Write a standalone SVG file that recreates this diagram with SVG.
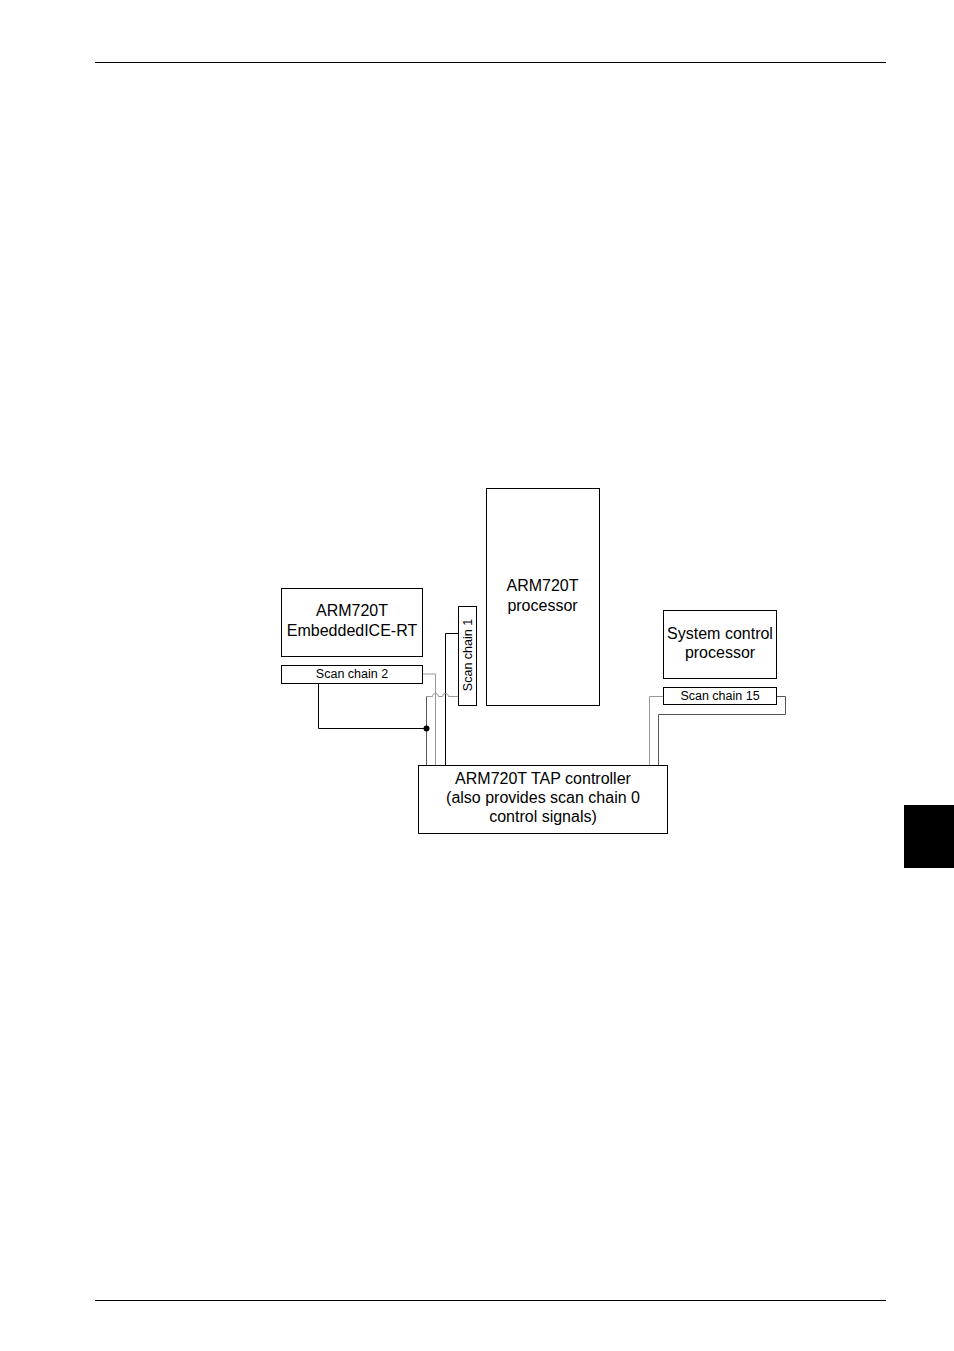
<svg xmlns="http://www.w3.org/2000/svg" width="954" height="1351" viewBox="0 0 954 1351">
<style>
.box{fill:#fff;stroke:#000;stroke-width:1}
.t{font-family:"Liberation Sans",Arial,sans-serif;font-size:16px;fill:#000;text-anchor:middle}
.s{font-family:"Liberation Sans",Arial,sans-serif;font-size:12.5px;fill:#000;text-anchor:middle}
.k{fill:none;stroke:#000;stroke-width:1}
.g{fill:none;stroke:#999;stroke-width:1}
.d{fill:none;stroke:#555;stroke-width:1}
</style>
<rect x="0" y="0" width="954" height="1351" fill="#fff"/>
<g id="page">
<line x1="95" y1="62.5" x2="886" y2="62.5" stroke="#000" stroke-width="1"/>
<line x1="95" y1="1300.5" x2="886" y2="1300.5" stroke="#000" stroke-width="1"/>
<rect x="904" y="805" width="50" height="63" fill="#000"/>
</g>
<g id="connectors">
<path class="g" d="M422.5,674 H435.5 V765"/>
<path class="k" d="M458.5,633.5 H445.5 V765"/>
<path class="g" d="M458.5,696.5 H448.5 A3,3 0 0 0 442.5,696.5 H438.5 A3,3 0 0 0 432.5,696.5 H426.5"/>
<path class="d" d="M426.5,696.5 V765"/>
<path class="k" d="M318.5,683 V728.5 H426.5"/>
<circle cx="426.5" cy="728.5" r="3" fill="#000"/>
<path class="g" d="M663,696.5 H649.5 V765"/>
<path class="d" d="M776,696.5 H785.5 V714.5 H658.5 V765"/>
</g>
<g id="processor">
<rect class="box" x="486.5" y="488.5" width="113" height="217"/>
<text class="t" x="542.5" y="591">ARM720T</text>
<text class="t" x="542.5" y="611">processor</text>
</g>
<g id="scanchain1">
<rect class="box" x="458.5" y="606.5" width="18" height="99"/>
<text class="s" transform="translate(471.5,655) rotate(-90)" x="0" y="0">Scan chain 1</text>
</g>
<g id="embeddedice">
<rect class="box" x="281.5" y="588.5" width="141" height="68"/>
<text class="t" x="352" y="616">ARM720T</text>
<text class="t" x="352" y="636">EmbeddedICE-RT</text>
</g>
<g id="scanchain2">
<rect class="box" x="281.5" y="665.5" width="141" height="18"/>
<text class="s" x="352" y="678">Scan chain 2</text>
</g>
<g id="syscontrol">
<rect class="box" x="663.5" y="610.5" width="113" height="68"/>
<text class="t" x="720" y="639">System control</text>
<text class="t" x="720" y="658">processor</text>
</g>
<g id="scanchain15">
<rect class="box" x="663.5" y="687.5" width="113" height="17"/>
<text class="s" x="720" y="700">Scan chain 15</text>
</g>
<g id="tap">
<rect class="box" x="418.5" y="765.5" width="249" height="68"/>
<text class="t" x="543" y="784">ARM720T TAP controller</text>
<text class="t" x="543" y="803">(also provides scan chain 0</text>
<text class="t" x="543" y="822">control signals)</text>
</g>
</svg>
